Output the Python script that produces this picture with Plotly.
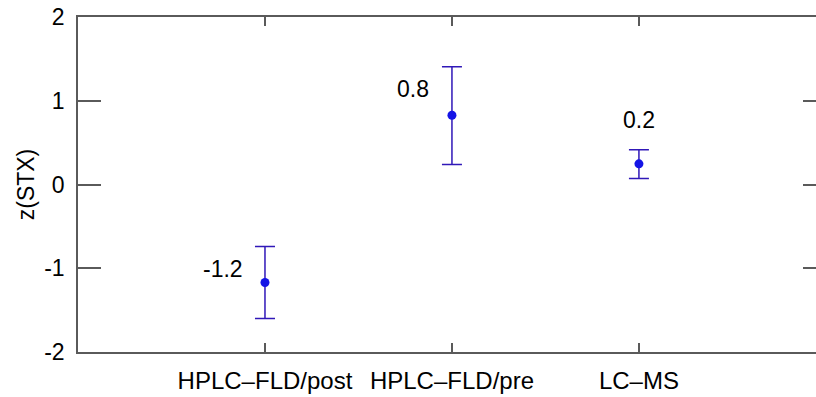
import plotly.graph_objects as go

categories = ["HPLC–FLD/post", "HPLC–FLD/pre", "LC–MS"]
z_values = [-1.17, 0.827, 0.247]
err_plus = [0.43, 0.578, 0.167]
err_minus = [0.43, 0.588, 0.175]
y_ticks = [-2, -1, 0, 1, 2]

label_shift_x = [-42, -39, 0]
label_shift_y = [13, 26, 44]

xpos = [1, 2, 3]
font = dict(family="Liberation Sans, Arial, sans-serif", size=23, color="black")
xfont = dict(font, size=24)
axcol = "#5a5a5a"

fig = go.Figure()
fig.add_trace(go.Scatter(
    x=xpos, y=z_values, mode="markers",
    marker=dict(color="#1414e6", size=9),
    error_y=dict(type="data", symmetric=False, array=err_plus, arrayminus=err_minus,
                 color="#3018b8", thickness=1.5, width=10),
    showlegend=False, hoverinfo="skip",
))
fig.add_trace(go.Scatter(x=[None], y=[None], yaxis="y2", showlegend=False, hoverinfo="skip"))

for x, v, dx, dy in zip(xpos, z_values, label_shift_x, label_shift_y):
    fig.add_annotation(x=x, y=v, text=f"{v:.1f}", showarrow=False,
                       xshift=dx, yshift=dy, font=font)

fig.update_layout(
    width=816, height=397,
    margin=dict(l=78, r=0, t=17, b=45),
    paper_bgcolor="white", plot_bgcolor="white",
    font=font,
    xaxis=dict(range=[0, 3.947], tickvals=xpos, ticktext=categories,
               showline=True, linecolor=axcol, linewidth=1.5, mirror="ticks",
               ticks="inside", ticklen=9, tickcolor=axcol, tickwidth=1.5,
               showgrid=False, zeroline=False, ticklabelstandoff=6, tickfont=xfont,
               automargin=False),
    yaxis=dict(range=[-2, 2], tickvals=y_ticks, ticktext=[str(t) for t in y_ticks],
               showline=True, linecolor=axcol, linewidth=1.5,
               ticks="inside", ticklen=23, tickcolor=axcol, tickwidth=1.5,
               showgrid=False, zeroline=False, ticklabelstandoff=7,
               title=dict(text="z(STX)", font=font, standoff=3), tickfont=font,
               automargin=False),
    yaxis2=dict(range=[-2, 2], overlaying="y", side="right", tickvals=y_ticks,
                showticklabels=False, showline=False, ticks="inside", ticklen=13,
                tickcolor=axcol, tickwidth=1.5, showgrid=False, zeroline=False,
                automargin=False),
)

fig.write_html("out.html", config={"displayModeBar": False},
               post_script="document.body.style.margin='0px';")
